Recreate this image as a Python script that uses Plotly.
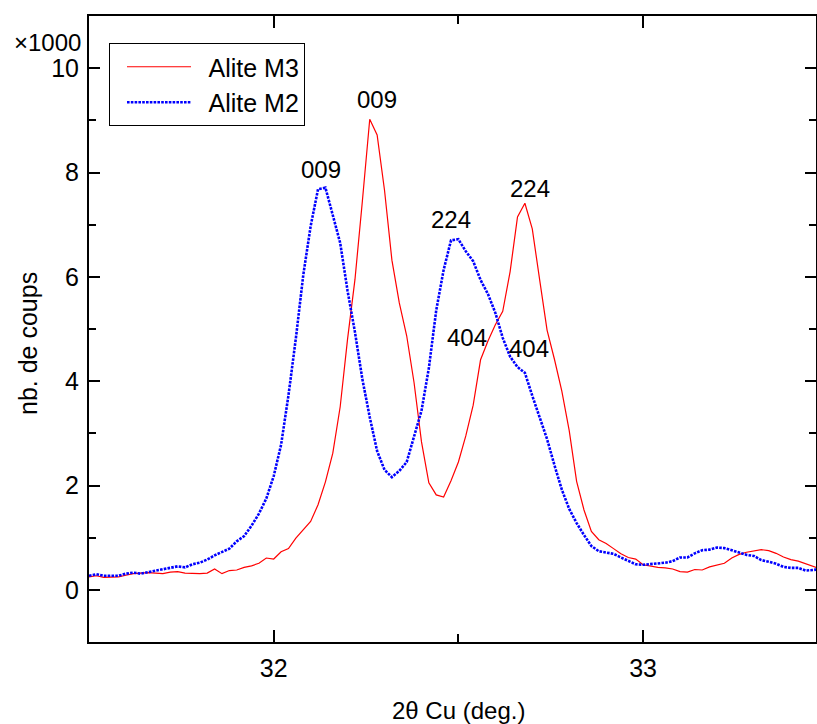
import plotly.graph_objects as go

# 2-theta grid (deg.)
two_theta = [31.50, 31.52, 31.54, 31.56, 31.58, 31.60, 31.62, 31.64, 31.66, 31.68,
             31.70, 31.72, 31.74, 31.76, 31.78, 31.80, 31.82, 31.84, 31.86, 31.88,
             31.90, 31.92, 31.94, 31.96, 31.98, 32.00, 32.02, 32.04, 32.06, 32.08,
             32.10, 32.12, 32.14, 32.16, 32.18, 32.20, 32.22, 32.24, 32.26, 32.28,
             32.30, 32.32, 32.34, 32.36, 32.38, 32.40, 32.42, 32.44, 32.46, 32.48,
             32.50, 32.52, 32.54, 32.56, 32.58, 32.60, 32.62, 32.64, 32.66, 32.68,
             32.70, 32.72, 32.74, 32.76, 32.78, 32.80, 32.82, 32.84, 32.86, 32.88,
             32.90, 32.92, 32.94, 32.96, 32.98, 33.00, 33.02, 33.04, 33.06, 33.08,
             33.10, 33.12, 33.14, 33.16, 33.18, 33.20, 33.22, 33.24, 33.26, 33.28,
             33.30, 33.32, 33.34, 33.36, 33.38, 33.40, 33.42, 33.44, 33.46, 33.48]

# counts (x1000)
alite_m3 = [0.25, 0.27, 0.24, 0.25, 0.25, 0.28, 0.31, 0.32, 0.33, 0.32,
            0.31, 0.34, 0.35, 0.32, 0.31, 0.31, 0.32, 0.40, 0.31, 0.37,
            0.38, 0.43, 0.46, 0.51, 0.61, 0.59, 0.73, 0.79, 0.99, 1.15,
            1.31, 1.63, 2.07, 2.62, 3.51, 4.81, 5.95, 7.45, 9.02, 8.72,
            7.66, 6.32, 5.50, 4.87, 3.97, 2.84, 2.05, 1.82, 1.78, 2.09,
            2.45, 2.95, 3.54, 4.41, 4.77, 5.08, 5.34, 6.10, 7.15, 7.41,
            6.92, 5.94, 4.98, 4.42, 3.81, 3.05, 2.08, 1.53, 1.12, 0.96,
            0.89, 0.79, 0.69, 0.62, 0.59, 0.48, 0.45, 0.43, 0.42, 0.40,
            0.35, 0.34, 0.39, 0.38, 0.44, 0.47, 0.51, 0.61, 0.68, 0.72,
            0.74, 0.77, 0.75, 0.70, 0.63, 0.58, 0.55, 0.50, 0.45, 0.40]

alite_m2 = [0.27, 0.30, 0.27, 0.27, 0.27, 0.31, 0.33, 0.31, 0.34, 0.37,
            0.40, 0.42, 0.45, 0.43, 0.49, 0.52, 0.58, 0.66, 0.73, 0.79,
            0.93, 1.03, 1.23, 1.46, 1.75, 2.18, 2.78, 3.73, 4.82, 6.03,
            6.97, 7.68, 7.71, 7.20, 6.65, 5.73, 4.94, 4.04, 3.31, 2.66,
            2.30, 2.16, 2.28, 2.45, 2.95, 3.43, 4.25, 5.36, 6.13, 6.70,
            6.72, 6.49, 6.30, 5.94, 5.67, 5.31, 4.83, 4.47, 4.27, 4.16,
            3.72, 3.30, 2.89, 2.39, 1.92, 1.55, 1.28, 1.05, 0.84, 0.74,
            0.71, 0.69, 0.62, 0.56, 0.49, 0.48, 0.49, 0.51, 0.52, 0.55,
            0.62, 0.62, 0.70, 0.76, 0.77, 0.81, 0.80, 0.76, 0.71, 0.67,
            0.65, 0.57, 0.54, 0.50, 0.44, 0.42, 0.42, 0.37, 0.38, 0.40]

series_names = ["Alite M3", "Alite M2"]

# reflection labels
peak_labels = ["009", "009", "224", "224", "404", "404"]
peak_x = [32.28, 32.127, 32.479, 32.694, 32.524, 32.69]
peak_y = [9.39, 8.05, 7.09, 7.69, 4.83, 4.62]

x_ticks = [32, 33]
y_ticks = [0, 2, 4, 6, 8, 10]

FONT = "Liberation Sans, Arial, sans-serif"

W, H = 817, 724
L, R, T, B = 89, 1, 16, 82
pw, ph = W - L - R, H - T - B


def px_to_paper(px, py):
    return (px - L) / pw, 1 - (py - T) / ph


fig = go.Figure()
fig.add_trace(go.Scatter(x=two_theta, y=alite_m3, mode="lines",
                         name="\u2002" + series_names[0],
                         line=dict(color="#ff0000", width=1.2)))
fig.add_trace(go.Scatter(x=two_theta, y=alite_m2, mode="lines",
                         name="\u2002" + series_names[1],
                         line=dict(color="#0000ff", width=2.6, dash="2.6px,1.2px")))

for t, x, y in zip(peak_labels, peak_x, peak_y):
    fig.add_annotation(x=x, y=y, text=t, showarrow=False, xref="x", yref="y",
                       xanchor="center", yanchor="middle",
                       font=dict(size=24, color="black", family=FONT))

ax, ay = px_to_paper(47, 43)
fig.add_annotation(x=ax, y=ay, xref="paper", yref="paper", text="\u00d71000",
                   xanchor="center", yanchor="middle",
                   showarrow=False, font=dict(size=24, family=FONT))

tx, ty = px_to_paper(458, 710)
fig.add_annotation(x=tx, y=ty, xref="paper", yref="paper", text="2\u03b8 Cu (deg.)",
                   xanchor="center", yanchor="middle",
                   showarrow=False, font=dict(size=24, family=FONT))
yx, yy = px_to_paper(28, 344)
fig.add_annotation(x=yx, y=yy, xref="paper", yref="paper", text="nb. de coups",
                   xanchor="center", yanchor="middle",
                   textangle=-90, showarrow=False, font=dict(size=25, family=FONT))

lx, ly = px_to_paper(109, 43)
fig.update_layout(
    width=W, height=H,
    margin=dict(l=L, r=R, t=T, b=B, autoexpand=False),
    plot_bgcolor="white", paper_bgcolor="white",
    font=dict(family=FONT, size=25, color="black"),
    legend=dict(x=lx, y=ly, xanchor="left", yanchor="top",
                bordercolor="black", borderwidth=1, bgcolor="white",
                font=dict(size=25, family=FONT), itemwidth=64,
                indentation=12, tracegroupgap=0),
    xaxis=dict(range=[31.5, 31.5 + pw / 369.4], showgrid=False, zeroline=False,
               automargin=False,
               showline=True, linecolor="black", linewidth=2, mirror="ticks",
               ticks="inside", ticklen=12, tickwidth=2, tickcolor="black",
               tickvals=x_ticks, ticktext=[str(v) for v in x_ticks],
               ticklabelstandoff=3,
               minor=dict(dtick=0.5, tick0=31.5, ticks="inside", ticklen=8,
                          tickwidth=2, tickcolor="black")),
    yaxis=dict(range=[-1, 11], showgrid=False, zeroline=False,
               automargin=False,
               showline=True, linecolor="black", linewidth=2, mirror="ticks",
               ticks="inside", ticklen=11, tickwidth=2, tickcolor="black",
               tickvals=y_ticks, ticktext=[str(v) for v in y_ticks],
               ticklabelstandoff=3,
               minor=dict(dtick=1, tick0=0, ticks="inside", ticklen=7,
                          tickwidth=2, tickcolor="black")),
)

fig.write_html("out.html", config={"displayModeBar": False},
               post_script="document.body.style.margin='0';"
                           "document.body.style.overflow='hidden';")
